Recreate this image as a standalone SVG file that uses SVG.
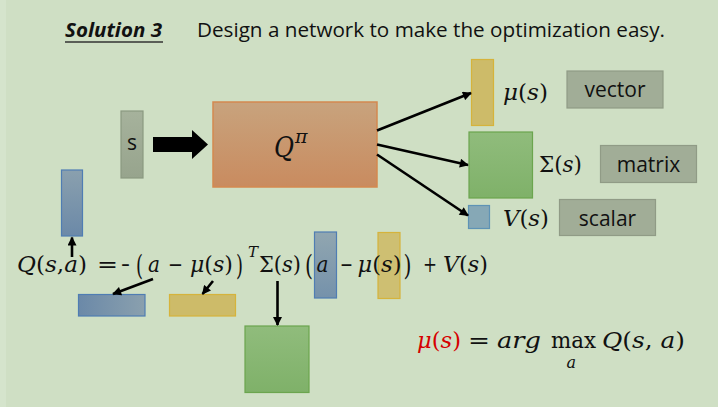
<svg xmlns="http://www.w3.org/2000/svg" width="718" height="407" viewBox="0 0 718 407">
<defs>
<style>
.math{font-family:"DejaVu Serif","Liberation Serif",serif;fill:#111;}
.it{font-style:italic;}
.lbl{font-family:"Open Sans","Liberation Sans",sans-serif;font-size:21px;fill:#111;text-anchor:middle;}
.gbox{fill:#a1ad97;stroke:#909b86;stroke-width:1.2;}
.conn{stroke:#000;stroke-width:2.6;fill:none;marker-end:url(#ah);}
</style>
<marker id="ah" viewBox="0 0 10 10" refX="9" refY="5" markerWidth="10" markerHeight="9" markerUnits="userSpaceOnUse" orient="auto">
<path d="M0,0 L10,5 L0,10 z" fill="#000"/>
</marker>
<linearGradient id="gq" x1="0" y1="0" x2="0" y2="1"><stop offset="0" stop-color="#c8a37d"/><stop offset="1" stop-color="#c98b5f"/></linearGradient>
<linearGradient id="gg" x1="0" y1="0" x2="0" y2="1"><stop offset="0" stop-color="#90bc7c"/><stop offset="1" stop-color="#7fb169"/></linearGradient>
<linearGradient id="gbv" x1="0" y1="0" x2="0" y2="1"><stop offset="0" stop-color="#8aa0ae"/><stop offset="1" stop-color="#6b89a8"/></linearGradient>
<linearGradient id="gbh" x1="0" y1="0" x2="1" y2="0"><stop offset="0" stop-color="#6b89a8"/><stop offset="1" stop-color="#8aa0ae"/></linearGradient>
<linearGradient id="gs" x1="0" y1="0" x2="0" y2="1"><stop offset="0" stop-color="#a6b29c"/><stop offset="1" stop-color="#97a48d"/></linearGradient>
</defs>
<rect x="0" y="0" width="718" height="407" fill="#cfdfc4"/>
<rect x="0" y="0" width="6" height="407" fill="#d5e4cc"/>

<g id="title">
<text x="65" y="37" font-family="Open Sans, Liberation Sans, sans-serif" font-size="20" font-weight="bold" font-style="italic" fill="#111" textLength="97" lengthAdjust="spacingAndGlyphs">Solution 3</text>
<line x1="65" y1="42" x2="163" y2="42" stroke="#333" stroke-width="1.5"/>
<text x="197" y="37" font-family="Open Sans, Liberation Sans, sans-serif" font-size="20" fill="#111" textLength="468" lengthAdjust="spacingAndGlyphs">Design a network to make the optimization easy.</text>
</g>

<g id="s-input">
<rect x="121" y="111" width="22" height="67" fill="url(#gs)" stroke="#8b9981" stroke-width="1.2"/>
<text class="lbl" x="132" y="150">s</text>
</g>

<g id="big-arrow">
<path d="M153,137 L192,137 L192,130 L208,144.5 L192,159 L192,152 L153,152 z" fill="#000"/>
</g>

<g id="Q-net">
<rect x="213" y="102" width="164" height="85" fill="url(#gq)" stroke="#d4894f" stroke-width="1.5"/>
<text class="math it" x="274" y="157" font-size="27" textLength="20" lengthAdjust="spacingAndGlyphs">Q</text>
<text class="math it" x="295" y="143" font-size="19">π</text>
</g>

<g id="mu-out">
<rect x="471.5" y="59.5" width="22" height="66" fill="#cdbb69" stroke="#d6b33b" stroke-width="1.2"/>
<text class="math" x="503" y="100" font-size="22" textLength="45" lengthAdjust="spacingAndGlyphs"><tspan class="it">μ</tspan>(<tspan class="it">s</tspan>)</text>
</g>
<g id="sigma-out">
<rect x="469" y="132" width="63.5" height="66" fill="url(#gg)" stroke="#6ba54e" stroke-width="1.2"/>
<text class="math" x="539" y="172" font-size="22" textLength="43" lengthAdjust="spacingAndGlyphs">Σ(<tspan class="it">s</tspan>)</text>
</g>
<g id="v-out">
<rect x="468.5" y="205.5" width="21" height="23" fill="#86a8b6" stroke="#5e93b5" stroke-width="1.2"/>
<text class="math" x="503" y="226" font-size="22" textLength="46" lengthAdjust="spacingAndGlyphs"><tspan class="it">V</tspan>(<tspan class="it">s</tspan>)</text>
</g>

<g id="vector-label"><rect class="gbox" x="567" y="71" width="96" height="37"/><text class="lbl" x="615" y="97">vector</text></g>
<g id="matrix-label"><rect class="gbox" x="600.5" y="145.5" width="96" height="37"/><text class="lbl" x="648.5" y="172">matrix</text></g>
<g id="scalar-label"><rect class="gbox" x="559.5" y="199.5" width="96" height="36"/><text class="lbl" x="607.5" y="226">scalar</text></g>

<g id="q-bar"><rect x="61.5" y="170" width="21" height="66" fill="url(#gbv)" stroke="#4f7db3" stroke-width="1.2"/></g>
<g id="a-bar"><rect x="314.5" y="232" width="22" height="66" fill="url(#gbv)" stroke="#4f7db3" stroke-width="1.2" fill-opacity="0.9"/></g>
<g id="mu-bar"><rect x="378" y="232.5" width="22" height="66" fill="#cdbb69" stroke="#d6b33b" stroke-width="1.2" fill-opacity="0.9"/></g>
<g id="aT-bar"><rect x="78.5" y="294.5" width="66.5" height="21.5" fill="url(#gbh)" stroke="#4f7db3" stroke-width="1.2"/></g>
<g id="muT-bar"><rect x="169.5" y="294.5" width="66" height="21.5" fill="#cdbb69" stroke="#d6b33b" stroke-width="1.2"/></g>
<g id="sigma-mat"><rect x="245" y="326" width="64" height="66.5" fill="url(#gg)" stroke="#6ba54e" stroke-width="1.2"/></g>

<g id="equation" class="math" font-size="22">
<text x="17" y="272" textLength="70" lengthAdjust="spacingAndGlyphs"><tspan class="it">Q</tspan>(<tspan class="it">s</tspan>,<tspan class="it">a</tspan>)</text>
<text x="97" y="272" textLength="21" lengthAdjust="spacingAndGlyphs">=</text>
<text y="272"><tspan x="121" textLength="9" lengthAdjust="spacingAndGlyphs">−</tspan><tspan x="136" y="275" font-size="28" textLength="7" lengthAdjust="spacingAndGlyphs">(</tspan></text>
<text class="it" x="148" y="272" textLength="12" lengthAdjust="spacingAndGlyphs">a</text>
<text x="168" y="272" textLength="15" lengthAdjust="spacingAndGlyphs">−</text>
<text x="190" y="272" textLength="43" lengthAdjust="spacingAndGlyphs"><tspan class="it">μ</tspan>(<tspan class="it">s</tspan>)</text>
<text x="236" y="275" font-size="28" textLength="7" lengthAdjust="spacingAndGlyphs">)</text>
<text class="it" x="248" y="257" font-size="15">T</text>
<text x="259" y="272" textLength="42" lengthAdjust="spacingAndGlyphs">Σ(<tspan class="it">s</tspan>)</text>
<text x="305" y="275" font-size="28" textLength="8" lengthAdjust="spacingAndGlyphs">(</text>
<text class="it" x="316.5" y="272" textLength="12" lengthAdjust="spacingAndGlyphs">a</text>
<text x="340" y="272" textLength="13" lengthAdjust="spacingAndGlyphs">−</text>
<text x="357.5" y="272" textLength="44" lengthAdjust="spacingAndGlyphs"><tspan class="it">μ</tspan>(<tspan class="it">s</tspan>)</text>
<text x="403.5" y="275" font-size="28" textLength="8" lengthAdjust="spacingAndGlyphs">)</text>
<text x="423" y="272" textLength="14" lengthAdjust="spacingAndGlyphs">+</text>
<text x="443" y="272" textLength="45" lengthAdjust="spacingAndGlyphs"><tspan class="it">V</tspan>(<tspan class="it">s</tspan>)</text>
</g>

<g id="argmax" class="math" font-size="22">
<text x="417" y="348" style="fill:#d60000" textLength="44" lengthAdjust="spacingAndGlyphs"><tspan class="it">μ</tspan>(<tspan class="it">s</tspan>)</text>
<text x="468" y="348" textLength="22" lengthAdjust="spacingAndGlyphs">=</text>
<text class="it" x="497" y="348" textLength="44" lengthAdjust="spacingAndGlyphs">arg</text>
<text x="551" y="348" textLength="45" lengthAdjust="spacingAndGlyphs">max</text>
<text class="it" x="566.5" y="368" font-size="16">a</text>
<text x="602" y="348" textLength="83" lengthAdjust="spacingAndGlyphs"><tspan class="it">Q</tspan>(<tspan class="it">s</tspan>, <tspan class="it">a</tspan>)</text>
</g>

<g id="connectors">
<line class="conn" x1="377" y1="130.5" x2="471" y2="93"/>
<line class="conn" x1="377" y1="144.5" x2="468" y2="165"/>
<line class="conn" x1="377" y1="154.5" x2="468" y2="215.5"/>
<line class="conn" x1="72" y1="257" x2="72" y2="237.5"/>
<line class="conn" x1="153" y1="279" x2="113" y2="294"/>
<line class="conn" x1="213" y1="281" x2="202.5" y2="294"/>
<line class="conn" x1="277.5" y1="281" x2="277.5" y2="325"/>
</g>
</svg>
